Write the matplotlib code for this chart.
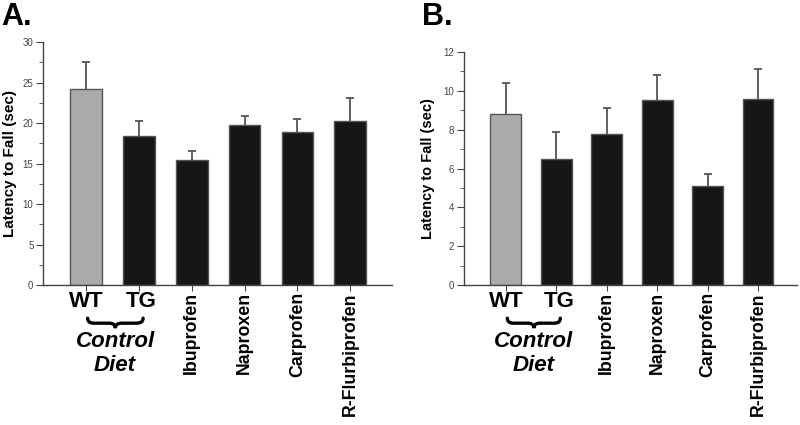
import matplotlib.pyplot as plt
import numpy as np
from matplotlib.path import Path
from matplotlib.patches import PathPatch
from matplotlib.ticker import MultipleLocator
import matplotlib.transforms as mtransforms

plt.rcParams['font.family'] = ['Liberation Sans', 'DejaVu Sans']

# dane
groups = ['WT', 'TG', 'Ibuprofen', 'Naproxen', 'Carprofen', 'R-Flurbiprofen']
mean_a = [24.2, 18.35, 15.5, 19.8, 18.9, 20.25]
err_a = [3.3, 1.85, 1.1, 1.1, 1.6, 2.8]
mean_b = [8.8, 6.5, 7.8, 9.5, 5.1, 9.6]
err_b = [1.6, 1.4, 1.3, 1.3, 0.6, 1.5]
colors = ['#aaaaaa', '#161616', '#161616', '#161616', '#161616', '#161616']

fig = plt.figure(figsize=(8, 4.25), dpi=100)
axA = fig.add_axes([0.054, 0.329, 0.436, 0.572])
axB = fig.add_axes([0.580, 0.329, 0.416, 0.549])


def brace(ax, x0, x1, top_px, mid_px, bot_px):
    # klamra pod WT i TG
    h = ax.get_position().height * fig.get_figheight() * fig.dpi
    t, m, b = -top_px / h, -mid_px / h, -bot_px / h
    xm = (x0 + x1) / 2
    r = 0.12
    verts = [(x0, t), (x0, m), (x0 + r, m), (xm - r, m), (xm, m), (xm, b),
             (xm, m), (xm + r, m), (x1 - r, m), (x1, m), (x1, t)]
    codes = [Path.MOVETO, Path.CURVE3, Path.CURVE3, Path.LINETO, Path.CURVE3, Path.CURVE3,
             Path.CURVE3, Path.CURVE3, Path.LINETO, Path.CURVE3, Path.CURVE3]
    tr = mtransforms.blended_transform_factory(ax.transData, ax.transAxes)
    p = PathPatch(Path(verts, codes), transform=tr, fill=False, lw=2.4,
                  edgecolor='black', clip_on=False, capstyle='round')
    ax.add_patch(p)


def panel(ax, means, errs, ymax, major, xlim, width, letter, lx, ly, ylab_x, ylab_size):
    x = np.arange(len(groups))
    ax.bar(x, means, width=width, color=colors, edgecolor='#555555', linewidth=1, zorder=2)
    # symetryczne, dolna polowa schowana pod slupkiem
    ax.errorbar(x, means, yerr=errs, fmt='none', ecolor='#555555',
                elinewidth=1.3, capsize=3, capthick=1.3, zorder=1)
    ax.set_ylim(0, ymax)
    ax.set_xlim(*xlim)
    ax.yaxis.set_major_locator(MultipleLocator(major))
    ax.yaxis.set_minor_locator(MultipleLocator(major / 2))
    for s in ['top', 'right']:
        ax.spines[s].set_visible(False)
    for s in ['left', 'bottom']:
        ax.spines[s].set_color('#444444')
        ax.spines[s].set_linewidth(1)
        ax.spines[s].set_zorder(3)
    ax.tick_params(axis='y', which='major', length=5, labelsize=7, colors='#444444', pad=2)
    ax.tick_params(axis='y', which='minor', length=3, colors='#444444')
    ax.tick_params(axis='x', length=4, colors='#444444')
    ax.set_xticks(x)
    ax.set_xticklabels([])
    trans = mtransforms.blended_transform_factory(ax.transData, ax.transAxes)
    h = ax.get_position().height * fig.get_figheight() * fig.dpi
    for i, g in enumerate(groups):
        if i < 2:
            ax.text(x[i] + 0.05 * i, -6 / h, g, transform=trans, ha='center', va='top',
                    fontsize=16, fontweight='bold')
        else:
            ax.text(x[i], -7 / h, g, transform=trans, ha='center', va='top',
                    rotation=90, fontsize=12.8, fontweight='bold')
    ax.text(0.55, -46 / h, 'Control\nDiet', transform=trans, ha='center', va='top',
            fontsize=16, fontweight='bold', fontstyle='italic', linespacing=1.2)
    brace(ax, 0.03, 1.08, 33, 38, 43)
    fig.text(ylab_x, (ax.get_position().y0 + ax.get_position().y1) / 2, 'Latency to Fall (sec)',
             rotation=90, ha='center', va='center', fontsize=ylab_size, fontweight='bold')
    fig.text(lx, ly, letter, fontsize=22, fontweight='bold', ha='left', va='top')


panel(axA, mean_a, err_a, 30, 5, (-0.81, 5.79), 0.6, 'A.', 0.002, 0.995, 0.012, 11)
panel(axB, mean_b, err_b, 12, 2, (-0.83, 5.77), 0.61, 'B.', 0.527, 0.995, 0.535, 10.5)

fig.savefig('out.png', dpi=100)
